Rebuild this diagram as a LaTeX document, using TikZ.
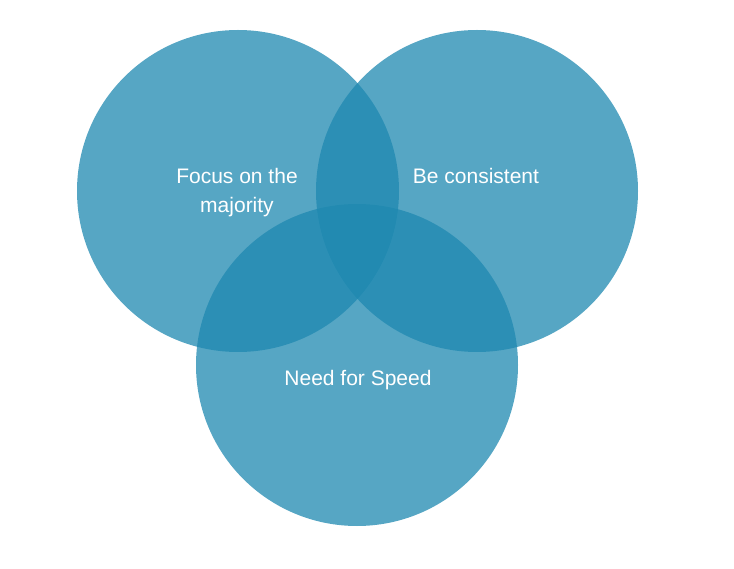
\documentclass[tikz,border=0pt]{standalone}
\usepackage{fontspec}
\setmainfont{Liberation Sans}
\usetikzlibrary{positioning}
\definecolor{vennblue}{HTML}{1E88B0}

\tikzset{
  venn/.style={circle, fill=vennblue, fill opacity=0.75, draw=none,
    minimum size=322pt, inner sep=0pt},
  vennlabel/.style={text=white, align=center,
    font=\fontsize{21}{29}\selectfont}
}

\begin{document}
\begin{tikzpicture}[x=1pt,y=-1pt]
  \useasboundingbox (0,0) rectangle (734,569);
  % the three sets
  \node[venn] (focus) at (238,191) {};
  \node[venn] (consistent) at (477,191) {};
  \node[venn] (speed) at (357,365) {};
  % labels
  \node[vennlabel] (focus_l) at (237,193) {Focus on the\\majority};
  \node[vennlabel, anchor=base] (consistent_l) at (476,184) {Be consistent};
  \node[vennlabel, anchor=base] (speed_l) at (358,385) {Need for Speed};
\end{tikzpicture}
\end{document}
